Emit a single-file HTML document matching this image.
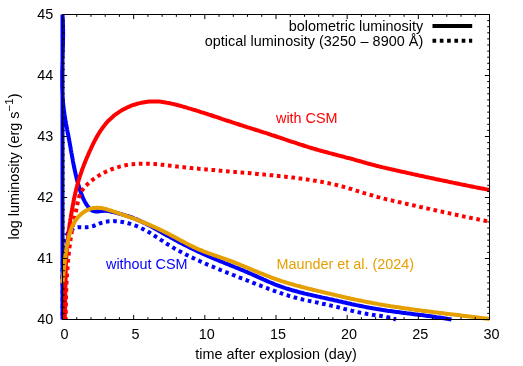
<!DOCTYPE html>
<html><head><meta charset="utf-8"><title>Light curves</title>
<style>
html,body{margin:0;padding:0;background:#fff}
svg{display:block}
text{font-family:"Liberation Sans",Arial,Helvetica,sans-serif;font-size:14.4px;fill:#000}
.c{fill:none;stroke-width:4;stroke-linejoin:round;stroke-linecap:butt}
.d{stroke-dasharray:3.65 3.65}
</style></head><body>
<svg width="523" height="366" viewBox="0 0 523 366">
<rect width="523" height="366" fill="#fff"/>
<path class="c" stroke="#0000ff" d="M62.5,319.5V14.5M62.5,14.5L62.6,16.0L62.7,17.5L62.8,19.0L62.8,20.5L62.9,22.0L62.9,23.5L63.0,25.0L63.0,26.5L63.0,28.0L63.1,29.5L63.1,31.0L63.1,32.5L63.1,34.0L63.1,35.5L63.1,37.0L63.0,38.6L63.0,40.1L63.0,41.6L63.0,43.1L62.9,44.6L62.9,46.1L62.9,47.6L62.8,49.1L62.8,50.6L62.8,52.1L62.7,53.6L62.7,55.1L62.6,56.7L62.6,58.2L62.5,59.7L62.5,61.2L62.4,62.7L62.4,64.2L62.4,65.7L62.3,67.2L62.3,68.7L62.3,70.2L62.2,71.7L62.2,73.2L62.2,74.8L62.2,76.3L62.2,77.8L62.2,79.3L62.2,80.8L62.2,82.3L62.2,83.8L62.2,85.3L62.2,86.8L62.3,88.3L62.3,89.8L62.4,91.3L62.4,92.8L62.5,94.3L62.6,95.8L62.7,97.3L62.8,98.8L62.9,100.3L63.0,101.8L63.1,103.3L63.3,104.8L63.4,106.3L63.6,107.8L63.8,109.3L64.0,110.8L64.2,112.2L64.4,113.7L64.6,115.2L64.8,116.7L65.1,118.2L65.3,119.7L65.6,121.2L65.9,122.7L66.1,124.1L66.4,125.6L66.7,127.1L67.0,128.6L67.2,130.1L67.5,131.6L67.8,133.0L68.1,134.5L68.4,136.0L68.7,137.5L68.9,139.0L69.2,140.4L69.5,141.9L69.8,143.4L70.0,144.9L70.3,146.4L70.6,147.8L70.8,149.3L71.1,150.8L71.3,152.3L71.6,153.7L71.9,155.2L72.1,156.7L72.4,158.2L72.7,159.6L72.9,161.1L73.2,162.6L73.5,164.1L73.8,165.5L74.1,167.0L74.4,168.5L74.7,169.9L75.0,171.4L75.3,172.9L75.7,174.3L76.0,175.8L76.4,177.3L76.7,178.7L77.1,180.2L77.5,181.6L77.9,183.1L78.3,184.5L78.7,186.0L79.2,187.4L79.6,188.9L80.1,190.3L80.6,191.8L81.1,193.2L81.7,194.6L82.2,196.1L82.8,197.5L83.4,198.9L84.1,200.2L84.8,201.6L85.5,202.9L86.3,204.2L87.1,205.4L88.0,206.6L88.9,207.8L89.9,208.9L91.0,209.8L92.2,210.6L93.5,211.1L94.9,211.4L96.4,211.5L97.9,211.5L99.4,211.3L101.0,211.1L102.5,210.9L104.1,210.8L105.6,210.8L107.0,210.9L108.5,211.1L110.0,211.4L111.4,211.7L112.9,212.0L114.3,212.4L115.8,212.7L117.2,213.1L118.7,213.5L120.1,213.9L121.6,214.3L123.0,214.7L124.5,215.1L126.0,215.6L127.4,216.0L128.8,216.5L130.3,217.0L131.7,217.5L133.1,218.0L134.5,218.6L135.9,219.1L137.3,219.7L138.7,220.3L140.1,220.9L141.4,221.6L142.8,222.2L144.2,222.9L145.5,223.5L146.8,224.2L148.2,224.9L149.5,225.6L150.8,226.3L152.2,227.0L153.5,227.7L154.8,228.5L156.1,229.2L157.4,229.9L158.7,230.7L160.0,231.4L161.3,232.2L162.6,232.9L163.9,233.7L165.2,234.4L166.5,235.2L167.9,235.9L169.2,236.6L170.5,237.4L171.8,238.1L173.1,238.8L174.4,239.5L175.8,240.3L177.1,241.0L178.4,241.7L179.7,242.4L181.1,243.1L182.4,243.8L183.7,244.5L185.1,245.2L186.4,245.8L187.8,246.5L189.1,247.2L190.5,247.9L191.8,248.5L193.2,249.2L194.5,249.8L195.9,250.5L197.2,251.1L198.6,251.8L200.0,252.4L201.3,253.0L202.7,253.7L204.1,254.3L205.4,254.9L206.8,255.5L208.2,256.1L209.6,256.7L211.0,257.3L212.3,257.9L213.7,258.5L215.1,259.1L216.5,259.7L217.9,260.2L219.3,260.8L220.7,261.4L222.1,261.9L223.5,262.5L224.9,263.1L226.2,263.6L227.6,264.2L229.0,264.7L230.4,265.3L231.8,265.9L233.2,266.4L234.6,267.0L236.0,267.6L237.4,268.1L238.8,268.7L240.2,269.3L241.6,269.8L243.0,270.4L244.4,271.0L245.7,271.6L247.1,272.2L248.5,272.8L249.9,273.4L251.3,274.0L252.7,274.6L254.0,275.2L255.4,275.8L256.8,276.4L258.2,277.1L259.5,277.7L260.9,278.3L262.3,278.9L263.6,279.5L265.0,280.1L266.4,280.8L267.8,281.4L269.2,282.0L270.5,282.5L271.9,283.1L273.3,283.7L274.7,284.3L276.1,284.8L277.5,285.4L278.9,285.9L280.3,286.4L281.7,286.9L283.2,287.4L284.6,287.9L286.0,288.3L287.4,288.8L288.9,289.2L290.3,289.7L291.7,290.1L293.2,290.5L294.6,290.9L296.1,291.3L297.5,291.7L299.0,292.1L300.4,292.5L301.9,292.8L303.4,293.2L304.8,293.6L306.3,293.9L307.8,294.3L309.2,294.6L310.7,294.9L312.2,295.3L313.6,295.6L315.1,295.9L316.6,296.3L318.1,296.6L319.5,296.9L321.0,297.2L322.5,297.6L324.0,297.9L325.4,298.2L326.9,298.5L328.4,298.9L329.8,299.2L331.3,299.5L332.8,299.8L334.3,300.2L335.7,300.5L337.2,300.8L338.7,301.2L340.1,301.5L341.6,301.8L343.1,302.2L344.5,302.5L346.0,302.8L347.5,303.2L348.9,303.5L350.4,303.8L351.9,304.2L353.3,304.5L354.8,304.8L356.3,305.1L357.7,305.4L359.2,305.7L360.7,306.0L362.2,306.3L363.6,306.6L365.1,306.9L366.6,307.2L368.1,307.5L369.5,307.8L371.0,308.0L372.5,308.3L374.0,308.6L375.5,308.8L376.9,309.1L378.4,309.3L379.9,309.5L381.4,309.8L382.9,310.0L384.4,310.2L385.9,310.4L387.3,310.7L388.8,310.9L390.3,311.1L391.8,311.3L393.3,311.5L394.8,311.7L396.3,311.9L397.8,312.1L399.3,312.3L400.8,312.5L402.3,312.7L403.8,312.9L405.3,313.1L406.8,313.3L408.3,313.4L409.8,313.6L411.2,313.8L412.7,314.0L414.2,314.2L415.7,314.4L417.2,314.6L418.7,314.8L420.2,315.0L421.7,315.1L423.2,315.3L424.7,315.5L426.2,315.7L427.7,315.9L429.2,316.1L430.7,316.3L432.2,316.5L433.7,316.7L435.2,316.9L436.6,317.2L438.1,317.4L439.6,317.6L441.1,317.8L442.6,318.0L444.1,318.3L445.6,318.5L447.1,318.8L448.5,319.0L450.0,319.2L451.5,319.5"/>
<path class="c d" stroke="#0000ff" stroke-dashoffset="3.3" d="M62.5,319.5L62.5,318.0L62.6,316.4L62.6,314.9L62.7,313.4L62.7,311.9L62.7,310.4L62.7,308.8L62.7,307.3L62.7,305.8L62.7,304.3L62.7,302.8L62.7,301.3L62.7,299.8L62.7,298.3L62.7,296.8L62.7,295.3L62.7,293.8L62.6,292.3L62.6,290.8L62.6,289.3L62.6,287.8L62.6,286.3L62.6,284.8L62.5,283.3L62.5,281.8L62.5,280.3L62.5,278.8L62.5,277.3L62.5,275.8L62.5,274.3L62.5,272.8L62.6,271.3L62.6,269.8L62.6,268.3L62.6,266.8L62.7,265.3L62.7,263.8L62.8,262.3L62.8,260.8L62.9,259.3L62.9,257.8L63.0,256.2L63.1,254.7L63.2,253.2L63.3,251.7L63.4,250.1L63.6,248.6L63.7,247.1L63.9,245.5L64.0,244.0L64.3,242.5L64.6,241.0L64.9,239.5L65.4,238.1L65.9,236.7L66.5,235.3L67.3,234.1L68.1,232.8L69.1,231.7L70.1,230.6L71.2,229.7L72.5,228.9L73.8,228.3L75.1,227.8L76.6,227.5L78.1,227.3L79.6,227.2L81.2,227.2L82.7,227.3L84.3,227.3L85.9,227.3L87.4,227.2L88.9,227.1L90.4,226.8L91.8,226.4L93.3,226.0L94.7,225.5L96.0,225.0L97.4,224.4L98.8,223.9L100.1,223.3L101.5,222.8L102.9,222.4L104.4,222.0L105.8,221.7L107.3,221.5L108.8,221.3L110.3,221.2L111.8,221.1L113.3,221.1L114.8,221.2L116.3,221.3L117.9,221.4L119.4,221.6L120.9,221.8L122.4,222.0L123.8,222.3L125.3,222.6L126.8,222.9L128.3,223.3L129.7,223.7L131.2,224.2L132.6,224.7L134.0,225.2L135.4,225.7L136.8,226.2L138.2,226.8L139.6,227.4L141.0,228.1L142.3,228.7L143.7,229.4L145.0,230.1L146.4,230.8L147.7,231.6L149.0,232.3L150.3,233.1L151.5,233.9L152.8,234.7L154.1,235.5L155.4,236.3L156.6,237.1L157.9,237.9L159.1,238.7L160.4,239.6L161.7,240.4L162.9,241.2L164.2,242.1L165.4,242.9L166.7,243.7L168.0,244.5L169.3,245.3L170.6,246.1L171.8,246.8L173.1,247.6L174.5,248.4L175.8,249.1L177.1,249.8L178.4,250.6L179.7,251.3L181.1,252.0L182.4,252.7L183.7,253.4L185.1,254.1L186.4,254.8L187.8,255.4L189.1,256.1L190.5,256.8L191.8,257.4L193.2,258.1L194.6,258.7L195.9,259.4L197.3,260.0L198.7,260.6L200.0,261.2L201.4,261.9L202.8,262.5L204.2,263.1L205.5,263.7L206.9,264.3L208.3,264.9L209.7,265.5L211.1,266.1L212.5,266.6L213.9,267.2L215.2,267.8L216.6,268.4L218.0,268.9L219.4,269.5L220.8,270.1L222.2,270.6L223.6,271.2L225.0,271.8L226.4,272.3L227.8,272.9L229.2,273.4L230.6,274.0L232.0,274.5L233.4,275.1L234.9,275.6L236.3,276.2L237.7,276.7L239.1,277.3L240.5,277.8L241.9,278.4L243.3,278.9L244.7,279.5L246.1,280.0L247.5,280.6L248.9,281.1L250.3,281.7L251.7,282.2L253.1,282.8L254.5,283.3L255.9,283.9L257.3,284.4L258.8,285.0L260.2,285.5L261.6,286.1L263.0,286.6L264.4,287.2L265.8,287.7L267.2,288.2L268.6,288.8L270.0,289.3L271.4,289.8L272.8,290.3L274.3,290.9L275.7,291.4L277.1,291.9L278.5,292.4L279.9,292.9L281.4,293.3L282.8,293.8L284.2,294.3L285.7,294.8L287.1,295.2L288.5,295.7L290.0,296.1L291.4,296.5L292.9,296.9L294.3,297.3L295.8,297.7L297.2,298.1L298.7,298.5L300.1,298.9L301.6,299.2L303.1,299.6L304.5,299.9L306.0,300.2L307.5,300.6L309.0,300.9L310.5,301.2L311.9,301.5L313.4,301.8L314.9,302.1L316.4,302.4L317.9,302.7L319.3,303.1L320.8,303.4L322.3,303.7L323.8,304.0L325.3,304.3L326.7,304.6L328.2,304.9L329.7,305.3L331.2,305.6L332.6,306.0L334.1,306.3L335.6,306.7L337.0,307.0L338.5,307.4L340.0,307.8L341.4,308.1L342.9,308.5L344.3,308.9L345.8,309.2L347.3,309.6L348.7,310.0L350.2,310.3L351.6,310.7L353.1,311.0L354.6,311.4L356.0,311.7L357.5,312.1L359.0,312.4L360.5,312.7L361.9,313.0L363.4,313.3L364.9,313.6L366.4,313.8L367.9,314.1L369.4,314.3L370.8,314.5L372.3,314.8L373.8,315.0L375.3,315.2L376.8,315.4L378.3,315.6L379.8,315.8L381.3,316.0L382.8,316.3L384.3,316.5L385.8,316.8L387.3,317.1L388.8,317.4L390.2,317.8L391.7,318.1L393.1,318.6L394.6,319.0L396.0,319.5"/>
<path class="c" stroke="#ff0000" d="M64.7,319.5L64.8,318.0L64.8,316.5L64.9,315.0L64.9,313.5L65.0,312.0L65.0,310.5L65.0,309.0L65.1,307.5L65.1,306.0L65.1,304.5L65.2,302.9L65.2,301.4L65.2,299.9L65.2,298.4L65.3,296.9L65.3,295.4L65.3,293.9L65.3,292.4L65.3,290.9L65.4,289.4L65.4,287.9L65.4,286.4L65.4,284.8L65.4,283.3L65.5,281.8L65.5,280.3L65.5,278.8L65.6,277.3L65.6,275.8L65.6,274.3L65.7,272.8L65.7,271.3L65.7,269.8L65.8,268.2L65.8,266.7L65.9,265.2L66.0,263.7L66.0,262.2L66.1,260.7L66.2,259.2L66.3,257.7L66.3,256.2L66.4,254.7L66.5,253.2L66.6,251.7L66.8,250.2L66.9,248.7L67.0,247.2L67.1,245.7L67.3,244.2L67.4,242.7L67.6,241.2L67.7,239.7L67.9,238.2L68.1,236.7L68.2,235.2L68.4,233.7L68.6,232.2L68.8,230.8L69.0,229.3L69.2,227.8L69.4,226.3L69.6,224.8L69.8,223.3L70.1,221.8L70.3,220.3L70.5,218.8L70.8,217.3L71.0,215.8L71.3,214.4L71.5,212.9L71.8,211.4L72.0,209.9L72.3,208.4L72.5,206.9L72.8,205.4L73.1,204.0L73.4,202.5L73.7,201.0L73.9,199.5L74.2,198.0L74.6,196.6L74.9,195.1L75.2,193.6L75.5,192.2L75.9,190.7L76.2,189.2L76.6,187.8L77.0,186.3L77.4,184.9L77.8,183.4L78.2,182.0L78.6,180.5L79.0,179.1L79.5,177.6L79.9,176.2L80.4,174.8L80.9,173.4L81.4,171.9L81.8,170.5L82.4,169.1L82.9,167.7L83.4,166.3L83.9,164.9L84.5,163.5L85.1,162.1L85.6,160.7L86.2,159.3L86.8,157.9L87.4,156.5L88.0,155.1L88.6,153.7L89.2,152.3L89.8,150.9L90.5,149.6L91.1,148.2L91.7,146.8L92.4,145.4L93.0,144.1L93.7,142.7L94.4,141.4L95.1,140.0L95.8,138.7L96.5,137.4L97.3,136.1L98.0,134.8L98.8,133.5L99.6,132.2L100.4,130.9L101.3,129.7L102.1,128.5L103.0,127.3L103.9,126.1L104.8,124.9L105.7,123.8L106.7,122.6L107.7,121.5L108.7,120.4L109.8,119.4L110.9,118.4L112.0,117.4L113.1,116.4L114.3,115.4L115.5,114.5L116.7,113.6L117.9,112.8L119.2,111.9L120.5,111.1L121.8,110.3L123.1,109.6L124.4,108.9L125.8,108.2L127.2,107.5L128.5,106.9L129.9,106.3L131.4,105.7L132.8,105.2L134.2,104.7L135.7,104.3L137.1,103.8L138.6,103.4L140.1,103.1L141.5,102.7L143.0,102.4L144.5,102.2L146.0,102.0L147.5,101.8L149.0,101.6L150.5,101.5L152.0,101.4L153.5,101.4L155.0,101.4L156.5,101.4L158.0,101.5L159.5,101.6L161.0,101.8L162.5,102.0L163.9,102.2L165.4,102.4L166.9,102.7L168.4,102.9L169.8,103.2L171.3,103.6L172.8,103.9L174.2,104.3L175.7,104.6L177.2,105.0L178.6,105.4L180.1,105.8L181.5,106.2L183.0,106.6L184.4,107.0L185.9,107.4L187.3,107.8L188.8,108.3L190.2,108.7L191.7,109.1L193.1,109.6L194.6,110.0L196.0,110.4L197.4,110.9L198.9,111.3L200.3,111.8L201.8,112.3L203.2,112.7L204.6,113.2L206.1,113.6L207.5,114.1L208.9,114.6L210.4,115.0L211.8,115.5L213.2,116.0L214.7,116.5L216.1,116.9L217.5,117.4L219.0,117.9L220.4,118.4L221.8,118.9L223.2,119.3L224.7,119.8L226.1,120.3L227.5,120.8L229.0,121.2L230.4,121.7L231.8,122.2L233.3,122.6L234.7,123.1L236.1,123.6L237.6,124.0L239.0,124.5L240.4,125.0L241.9,125.4L243.3,125.9L244.7,126.3L246.2,126.8L247.6,127.3L249.0,127.7L250.5,128.2L251.9,128.6L253.4,129.1L254.8,129.5L256.2,130.0L257.7,130.4L259.1,130.9L260.5,131.3L262.0,131.8L263.4,132.3L264.8,132.7L266.3,133.2L267.7,133.6L269.1,134.1L270.6,134.6L272.0,135.1L273.4,135.5L274.9,136.0L276.3,136.5L277.7,137.0L279.1,137.4L280.6,137.9L282.0,138.4L283.4,138.9L284.9,139.4L286.3,139.8L287.7,140.3L289.1,140.8L290.6,141.3L292.0,141.8L293.4,142.2L294.9,142.7L296.3,143.2L297.7,143.7L299.2,144.1L300.6,144.6L302.0,145.0L303.5,145.5L304.9,146.0L306.3,146.4L307.8,146.9L309.2,147.3L310.6,147.8L312.1,148.2L313.5,148.6L315.0,149.0L316.4,149.5L317.9,149.9L319.3,150.3L320.8,150.7L322.2,151.1L323.7,151.5L325.1,151.9L326.6,152.3L328.0,152.7L329.5,153.1L331.0,153.4L332.4,153.8L333.9,154.2L335.3,154.6L336.8,155.0L338.2,155.4L339.7,155.7L341.2,156.1L342.6,156.5L344.1,156.9L345.5,157.3L347.0,157.7L348.5,158.0L349.9,158.4L351.4,158.8L352.8,159.2L354.3,159.6L355.7,160.1L357.2,160.5L358.6,160.9L360.1,161.3L361.5,161.7L363.0,162.1L364.4,162.5L365.9,162.9L367.3,163.3L368.8,163.7L370.2,164.1L371.7,164.5L373.1,164.9L374.6,165.3L376.0,165.7L377.5,166.0L379.0,166.4L380.4,166.7L381.9,167.1L383.4,167.4L384.8,167.8L386.3,168.1L387.8,168.5L389.2,168.8L390.7,169.1L392.2,169.5L393.6,169.8L395.1,170.1L396.6,170.5L398.0,170.8L399.5,171.1L401.0,171.5L402.5,171.8L403.9,172.1L405.4,172.4L406.9,172.8L408.3,173.1L409.8,173.4L411.3,173.7L412.8,174.1L414.2,174.4L415.7,174.7L417.2,175.0L418.6,175.4L420.1,175.7L421.6,176.0L423.1,176.3L424.5,176.6L426.0,177.0L427.5,177.3L429.0,177.6L430.4,177.9L431.9,178.2L433.4,178.5L434.9,178.9L436.3,179.2L437.8,179.5L439.3,179.8L440.8,180.1L442.2,180.4L443.7,180.7L445.2,181.0L446.7,181.3L448.1,181.6L449.6,182.0L451.1,182.3L452.6,182.6L454.0,182.9L455.5,183.2L457.0,183.5L458.5,183.8L459.9,184.1L461.4,184.4L462.9,184.7L464.4,185.0L465.9,185.3L467.3,185.6L468.8,185.9L470.3,186.2L471.8,186.5L473.2,186.8L474.7,187.1L476.2,187.4L477.7,187.7L479.2,188.0L480.6,188.3L482.1,188.5L483.6,188.8L485.1,189.1L486.5,189.4L488.0,189.7L489.5,190.0"/>
<path class="c d" stroke="#ff0000" stroke-dashoffset="1.5" d="M65.7,319.5L65.7,318.0L65.7,316.5L65.7,315.0L65.7,313.5L65.8,312.0L65.8,310.5L65.8,309.0L65.8,307.5L65.8,306.0L65.9,304.5L65.9,303.0L65.9,301.5L66.0,300.0L66.0,298.5L66.0,297.0L66.1,295.5L66.1,294.0L66.2,292.4L66.2,290.9L66.3,289.4L66.3,287.9L66.4,286.4L66.5,284.9L66.5,283.4L66.6,281.9L66.7,280.4L66.8,278.9L66.9,277.4L66.9,275.9L67.0,274.4L67.1,272.9L67.2,271.4L67.3,269.9L67.5,268.4L67.6,266.9L67.7,265.4L67.8,263.9L67.9,262.4L68.1,260.9L68.2,259.4L68.4,257.9L68.5,256.4L68.7,254.9L68.8,253.4L69.0,251.9L69.2,250.4L69.3,248.9L69.5,247.4L69.7,245.9L69.9,244.4L70.1,243.0L70.3,241.5L70.5,240.0L70.7,238.5L71.0,237.0L71.2,235.5L71.4,234.0L71.7,232.6L71.9,231.1L72.2,229.6L72.5,228.1L72.7,226.7L73.0,225.2L73.3,223.7L73.6,222.2L73.9,220.8L74.2,219.3L74.5,217.8L74.8,216.4L75.1,214.9L75.4,213.4L75.8,211.9L76.1,210.5L76.4,209.0L76.7,207.5L77.0,206.0L77.3,204.5L77.6,203.0L77.9,201.5L78.2,200.1L78.6,198.6L79.0,197.2L79.5,195.7L80.1,194.3L80.7,193.0L81.4,191.7L82.1,190.4L83.0,189.1L83.9,187.9L84.8,186.8L85.8,185.7L86.9,184.7L88.0,183.7L89.1,182.7L90.2,181.7L91.4,180.7L92.6,179.8L93.8,178.9L95.0,178.0L96.3,177.2L97.5,176.4L98.8,175.6L100.1,174.8L101.4,174.0L102.7,173.3L104.1,172.6L105.4,172.0L106.8,171.3L108.2,170.7L109.6,170.1L111.0,169.5L112.4,169.0L113.8,168.5L115.3,168.0L116.7,167.5L118.2,167.1L119.6,166.6L121.1,166.3L122.6,165.9L124.0,165.6L125.5,165.3L127.0,165.0L128.5,164.8L130.0,164.5L131.4,164.3L132.9,164.2L134.4,164.0L135.9,163.9L137.4,163.8L138.9,163.7L140.4,163.7L141.9,163.7L143.3,163.7L144.8,163.7L146.3,163.7L147.8,163.7L149.3,163.8L150.8,163.9L152.3,163.9L153.8,164.0L155.3,164.1L156.8,164.3L158.3,164.4L159.8,164.5L161.3,164.7L162.8,164.8L164.3,165.0L165.8,165.2L167.3,165.3L168.8,165.5L170.3,165.7L171.8,165.9L173.3,166.0L174.8,166.2L176.3,166.4L177.8,166.6L179.3,166.7L180.8,166.9L182.3,167.1L183.8,167.2L185.3,167.4L186.8,167.6L188.3,167.7L189.8,167.9L191.3,168.0L192.8,168.2L194.3,168.3L195.8,168.5L197.3,168.6L198.8,168.8L200.3,168.9L201.8,169.0L203.3,169.2L204.8,169.3L206.3,169.5L207.8,169.6L209.3,169.7L210.8,169.9L212.3,170.0L213.8,170.1L215.3,170.3L216.8,170.4L218.3,170.5L219.8,170.7L221.3,170.8L222.8,170.9L224.3,171.0L225.8,171.2L227.2,171.3L228.7,171.4L230.2,171.6L231.7,171.7L233.2,171.8L234.7,171.9L236.2,172.1L237.7,172.2L239.2,172.3L240.7,172.4L242.2,172.6L243.7,172.7L245.2,172.8L246.7,173.0L248.2,173.1L249.7,173.2L251.2,173.3L252.7,173.5L254.2,173.6L255.7,173.7L257.2,173.9L258.7,174.0L260.1,174.2L261.6,174.3L263.1,174.4L264.6,174.6L266.1,174.7L267.6,174.9L269.1,175.0L270.6,175.2L272.1,175.3L273.6,175.5L275.1,175.6L276.6,175.8L278.1,175.9L279.6,176.1L281.1,176.2L282.6,176.4L284.1,176.6L285.6,176.7L287.1,176.9L288.6,177.1L290.0,177.2L291.5,177.4L293.0,177.6L294.5,177.8L296.0,178.0L297.5,178.2L299.0,178.4L300.5,178.6L302.0,178.8L303.5,179.0L305.0,179.2L306.5,179.4L307.9,179.6L309.4,179.9L310.9,180.1L312.4,180.3L313.9,180.6L315.4,180.8L316.9,181.1L318.3,181.3L319.8,181.6L321.3,181.8L322.8,182.1L324.3,182.4L325.7,182.7L327.2,183.0L328.7,183.3L330.2,183.6L331.6,183.9L333.1,184.2L334.6,184.6L336.0,184.9L337.5,185.3L338.9,185.7L340.4,186.1L341.8,186.4L343.3,186.8L344.7,187.2L346.2,187.6L347.6,188.1L349.1,188.5L350.5,188.9L352.0,189.3L353.4,189.8L354.8,190.2L356.3,190.7L357.7,191.1L359.1,191.5L360.6,192.0L362.0,192.4L363.5,192.9L364.9,193.3L366.3,193.7L367.8,194.2L369.2,194.6L370.7,195.0L372.1,195.4L373.5,195.9L375.0,196.3L376.4,196.7L377.9,197.1L379.3,197.4L380.8,197.8L382.3,198.2L383.7,198.6L385.2,198.9L386.6,199.3L388.1,199.6L389.6,200.0L391.0,200.3L392.5,200.6L394.0,201.0L395.4,201.3L396.9,201.6L398.4,202.0L399.8,202.3L401.3,202.6L402.8,203.0L404.2,203.3L405.7,203.6L407.2,204.0L408.6,204.3L410.1,204.6L411.6,205.0L413.0,205.3L414.5,205.6L416.0,206.0L417.4,206.3L418.9,206.6L420.4,207.0L421.8,207.3L423.3,207.6L424.8,207.9L426.2,208.3L427.7,208.6L429.2,208.9L430.6,209.3L432.1,209.6L433.6,209.9L435.0,210.2L436.5,210.5L438.0,210.9L439.4,211.2L440.9,211.5L442.4,211.8L443.9,212.2L445.3,212.5L446.8,212.8L448.3,213.1L449.7,213.4L451.2,213.8L452.7,214.1L454.1,214.4L455.6,214.7L457.1,215.0L458.6,215.3L460.0,215.6L461.5,216.0L463.0,216.3L464.4,216.6L465.9,216.9L467.4,217.2L468.9,217.5L470.3,217.8L471.8,218.1L473.3,218.4L474.8,218.7L476.2,219.0L477.7,219.3L479.2,219.6L480.7,219.9L482.1,220.2L483.6,220.5L485.1,220.8L486.5,221.1L488.0,221.4L489.5,221.7"/>
<path class="c" stroke="#e69f00" d="M62.5,283.6L62.7,282.1L62.8,280.6L62.9,279.1L63.1,277.6L63.2,276.1L63.4,274.6L63.5,273.1L63.7,271.6L63.8,270.1L64.0,268.6L64.1,267.1L64.3,265.6L64.5,264.1L64.6,262.6L64.8,261.1L65.0,259.6L65.2,258.1L65.3,256.7L65.5,255.2L65.8,253.7L66.0,252.2L66.2,250.7L66.4,249.2L66.7,247.7L66.9,246.2L67.2,244.8L67.5,243.3L67.8,241.8L68.1,240.3L68.4,238.8L68.8,237.3L69.1,235.8L69.5,234.4L69.9,232.9L70.4,231.5L70.9,230.0L71.4,228.6L71.9,227.2L72.5,225.8L73.2,224.5L73.9,223.2L74.6,221.9L75.4,220.6L76.3,219.4L77.2,218.2L78.1,217.0L79.2,215.9L80.3,214.9L81.5,213.8L82.7,212.9L83.9,212.0L85.2,211.2L86.6,210.4L87.9,209.8L89.3,209.2L90.8,208.7L92.2,208.3L93.6,208.1L95.1,207.9L96.5,207.8L98.0,207.8L99.5,207.9L100.9,208.0L102.4,208.3L103.9,208.6L105.3,208.9L106.8,209.3L108.2,209.8L109.6,210.2L111.1,210.7L112.5,211.2L113.9,211.7L115.4,212.2L116.8,212.7L118.2,213.1L119.7,213.6L121.1,214.1L122.5,214.6L124.0,215.1L125.4,215.6L126.8,216.1L128.2,216.6L129.7,217.1L131.1,217.6L132.5,218.1L133.9,218.6L135.3,219.2L136.7,219.7L138.1,220.2L139.5,220.8L140.9,221.3L142.3,221.9L143.7,222.5L145.1,223.0L146.5,223.6L147.9,224.2L149.3,224.8L150.7,225.4L152.0,226.0L153.4,226.6L154.8,227.2L156.1,227.8L157.5,228.5L158.9,229.1L160.2,229.7L161.6,230.4L162.9,231.1L164.3,231.7L165.6,232.4L167.0,233.1L168.3,233.8L169.7,234.5L171.0,235.2L172.3,235.9L173.7,236.6L175.0,237.3L176.3,238.0L177.6,238.7L179.0,239.5L180.3,240.2L181.6,240.9L183.0,241.6L184.3,242.3L185.6,243.0L187.0,243.7L188.3,244.4L189.6,245.1L191.0,245.8L192.3,246.4L193.7,247.1L195.1,247.7L196.4,248.4L197.8,249.0L199.2,249.6L200.6,250.1L202.0,250.7L203.4,251.3L204.8,251.8L206.2,252.3L207.6,252.9L209.0,253.4L210.4,253.9L211.9,254.4L213.3,254.9L214.7,255.4L216.1,255.9L217.6,256.4L219.0,256.9L220.4,257.4L221.8,257.8L223.3,258.3L224.7,258.8L226.1,259.3L227.5,259.9L228.9,260.4L230.4,260.9L231.8,261.4L233.2,262.0L234.6,262.5L236.0,263.1L237.4,263.6L238.8,264.2L240.2,264.8L241.5,265.3L242.9,265.9L244.3,266.5L245.7,267.1L247.1,267.7L248.5,268.2L249.9,268.8L251.3,269.4L252.7,270.0L254.1,270.6L255.5,271.1L256.9,271.7L258.3,272.3L259.7,272.9L261.1,273.4L262.5,274.0L263.9,274.5L265.3,275.1L266.7,275.7L268.1,276.2L269.5,276.7L270.9,277.3L272.3,277.8L273.7,278.3L275.1,278.8L276.5,279.3L278.0,279.8L279.4,280.3L280.8,280.8L282.3,281.3L283.7,281.7L285.1,282.2L286.6,282.6L288.0,283.1L289.4,283.5L290.9,283.9L292.3,284.3L293.8,284.7L295.2,285.2L296.7,285.6L298.1,285.9L299.6,286.3L301.1,286.7L302.5,287.1L304.0,287.5L305.4,287.9L306.9,288.2L308.4,288.6L309.8,288.9L311.3,289.3L312.8,289.7L314.2,290.0L315.7,290.4L317.2,290.7L318.6,291.1L320.1,291.4L321.6,291.8L323.0,292.1L324.5,292.5L326.0,292.8L327.4,293.2L328.9,293.5L330.4,293.8L331.8,294.2L333.3,294.5L334.8,294.9L336.2,295.2L337.7,295.6L339.2,295.9L340.6,296.3L342.1,296.6L343.5,297.0L345.0,297.3L346.5,297.7L347.9,298.0L349.4,298.3L350.9,298.7L352.4,299.0L353.8,299.3L355.3,299.6L356.8,299.9L358.2,300.2L359.7,300.5L361.2,300.8L362.7,301.1L364.1,301.4L365.6,301.7L367.1,302.0L368.6,302.3L370.1,302.6L371.5,302.8L373.0,303.1L374.5,303.4L376.0,303.6L377.5,303.9L378.9,304.2L380.4,304.4L381.9,304.7L383.4,304.9L384.9,305.2L386.4,305.4L387.9,305.7L389.3,305.9L390.8,306.2L392.3,306.4L393.8,306.6L395.3,306.9L396.8,307.1L398.3,307.3L399.8,307.5L401.3,307.8L402.8,308.0L404.2,308.2L405.7,308.4L407.2,308.6L408.7,308.8L410.2,309.0L411.7,309.3L413.2,309.5L414.7,309.7L416.2,309.9L417.7,310.1L419.2,310.3L420.7,310.5L422.2,310.7L423.7,310.9L425.2,311.1L426.7,311.3L428.2,311.5L429.7,311.6L431.2,311.8L432.7,312.0L434.1,312.2L435.6,312.4L437.1,312.6L438.6,312.8L440.1,313.0L441.6,313.1L443.1,313.3L444.6,313.5L446.1,313.7L447.6,313.9L449.1,314.1L450.6,314.2L452.1,314.4L453.6,314.6L455.1,314.8L456.6,315.0L458.1,315.1L459.6,315.3L461.1,315.5L462.6,315.7L464.1,315.9L465.6,316.0L467.1,316.2L468.6,316.4L470.1,316.6L471.6,316.8L473.1,316.9L474.6,317.1L476.1,317.3L477.6,317.5L479.0,317.7L480.5,317.9L482.0,318.1L483.5,318.2L485.0,318.4L486.5,318.6L488.0,318.8L489.5,319.0"/>
<path d="M62.50,319.5v-4.6M62.50,14.5v4.6M76.73,319.5v-2.3M76.73,14.5v2.3M90.97,319.5v-2.3M90.97,14.5v2.3M105.20,319.5v-2.3M105.20,14.5v2.3M119.43,319.5v-2.3M119.43,14.5v2.3M133.67,319.5v-4.6M133.67,14.5v4.6M147.90,319.5v-2.3M147.90,14.5v2.3M162.13,319.5v-2.3M162.13,14.5v2.3M176.37,319.5v-2.3M176.37,14.5v2.3M190.60,319.5v-2.3M190.60,14.5v2.3M204.83,319.5v-4.6M204.83,14.5v4.6M219.07,319.5v-2.3M219.07,14.5v2.3M233.30,319.5v-2.3M233.30,14.5v2.3M247.53,319.5v-2.3M247.53,14.5v2.3M261.77,319.5v-2.3M261.77,14.5v2.3M276.00,319.5v-4.6M276.00,14.5v4.6M290.23,319.5v-2.3M290.23,14.5v2.3M304.47,319.5v-2.3M304.47,14.5v2.3M318.70,319.5v-2.3M318.70,14.5v2.3M332.93,319.5v-2.3M332.93,14.5v2.3M347.17,319.5v-4.6M347.17,14.5v4.6M361.40,319.5v-2.3M361.40,14.5v2.3M375.63,319.5v-2.3M375.63,14.5v2.3M389.87,319.5v-2.3M389.87,14.5v2.3M404.10,319.5v-2.3M404.10,14.5v2.3M418.33,319.5v-4.6M418.33,14.5v4.6M432.57,319.5v-2.3M432.57,14.5v2.3M446.80,319.5v-2.3M446.80,14.5v2.3M461.03,319.5v-2.3M461.03,14.5v2.3M475.27,319.5v-2.3M475.27,14.5v2.3M489.50,319.5v-4.6M489.50,14.5v4.6M62.5,319.50h4.6M489.5,319.50h-4.6M62.5,313.40h2.3M489.5,313.40h-2.3M62.5,307.30h2.3M489.5,307.30h-2.3M62.5,301.20h2.3M489.5,301.20h-2.3M62.5,295.10h2.3M489.5,295.10h-2.3M62.5,289.00h2.3M489.5,289.00h-2.3M62.5,282.90h2.3M489.5,282.90h-2.3M62.5,276.80h2.3M489.5,276.80h-2.3M62.5,270.70h2.3M489.5,270.70h-2.3M62.5,264.60h2.3M489.5,264.60h-2.3M62.5,258.50h4.6M489.5,258.50h-4.6M62.5,252.40h2.3M489.5,252.40h-2.3M62.5,246.30h2.3M489.5,246.30h-2.3M62.5,240.20h2.3M489.5,240.20h-2.3M62.5,234.10h2.3M489.5,234.10h-2.3M62.5,228.00h2.3M489.5,228.00h-2.3M62.5,221.90h2.3M489.5,221.90h-2.3M62.5,215.80h2.3M489.5,215.80h-2.3M62.5,209.70h2.3M489.5,209.70h-2.3M62.5,203.60h2.3M489.5,203.60h-2.3M62.5,197.50h4.6M489.5,197.50h-4.6M62.5,191.40h2.3M489.5,191.40h-2.3M62.5,185.30h2.3M489.5,185.30h-2.3M62.5,179.20h2.3M489.5,179.20h-2.3M62.5,173.10h2.3M489.5,173.10h-2.3M62.5,167.00h2.3M489.5,167.00h-2.3M62.5,160.90h2.3M489.5,160.90h-2.3M62.5,154.80h2.3M489.5,154.80h-2.3M62.5,148.70h2.3M489.5,148.70h-2.3M62.5,142.60h2.3M489.5,142.60h-2.3M62.5,136.50h4.6M489.5,136.50h-4.6M62.5,130.40h2.3M489.5,130.40h-2.3M62.5,124.30h2.3M489.5,124.30h-2.3M62.5,118.20h2.3M489.5,118.20h-2.3M62.5,112.10h2.3M489.5,112.10h-2.3M62.5,106.00h2.3M489.5,106.00h-2.3M62.5,99.90h2.3M489.5,99.90h-2.3M62.5,93.80h2.3M489.5,93.80h-2.3M62.5,87.70h2.3M489.5,87.70h-2.3M62.5,81.60h2.3M489.5,81.60h-2.3M62.5,75.50h4.6M489.5,75.50h-4.6M62.5,69.40h2.3M489.5,69.40h-2.3M62.5,63.30h2.3M489.5,63.30h-2.3M62.5,57.20h2.3M489.5,57.20h-2.3M62.5,51.10h2.3M489.5,51.10h-2.3M62.5,45.00h2.3M489.5,45.00h-2.3M62.5,38.90h2.3M489.5,38.90h-2.3M62.5,32.80h2.3M489.5,32.80h-2.3M62.5,26.70h2.3M489.5,26.70h-2.3M62.5,20.60h2.3M489.5,20.60h-2.3M62.5,14.50h4.6M489.5,14.50h-4.6" stroke="#000" stroke-width="1" fill="none"/>
<rect x="62.5" y="14.5" width="427.0" height="305.0" fill="none" stroke="#000" stroke-width="1"/>
<g><text x="64.4" y="338.6" text-anchor="middle">0</text><text x="135.6" y="338.6" text-anchor="middle">5</text><text x="206.7" y="338.6" text-anchor="middle">10</text><text x="277.9" y="338.6" text-anchor="middle">15</text><text x="349.1" y="338.6" text-anchor="middle">20</text><text x="420.2" y="338.6" text-anchor="middle">25</text><text x="491.4" y="338.6" text-anchor="middle">30</text></g>
<g><text x="53.3" y="324.3" text-anchor="end">40</text><text x="53.3" y="263.3" text-anchor="end">41</text><text x="53.3" y="202.3" text-anchor="end">42</text><text x="53.3" y="141.3" text-anchor="end">43</text><text x="53.3" y="80.3" text-anchor="end">44</text><text x="53.3" y="19.3" text-anchor="end">45</text></g>
<text x="276" y="359.2" text-anchor="middle">time after explosion (day)</text>
<text transform="translate(19.2,166.5) rotate(-90)" text-anchor="middle">log luminosity (erg s<tspan dy="-6.5" font-size="11.5">−1</tspan><tspan dy="6.5">)</tspan></text>
<text x="423.1" y="31" text-anchor="end">bolometric luminosity</text>
<text x="423.3" y="45.8" text-anchor="end" style="letter-spacing:0.04px">optical luminosity (3250<tspan dx="0.5"> – </tspan>8900 Å)</text>
<path d="M432.5,26H472.2" stroke="#000" stroke-width="4" fill="none"/>
<path d="M432.5,40.8H472.2" stroke="#000" stroke-width="4" stroke-dasharray="3.65 3.65" fill="none"/>
<text x="276" y="122.8" style="fill:#ff0000">with CSM</text>
<text x="106" y="269.2" style="fill:#0000ff">without CSM</text>
<text x="276.5" y="269.2" style="fill:#e69f00">Maunder et al. (2024)</text>
</svg>
</body></html>
